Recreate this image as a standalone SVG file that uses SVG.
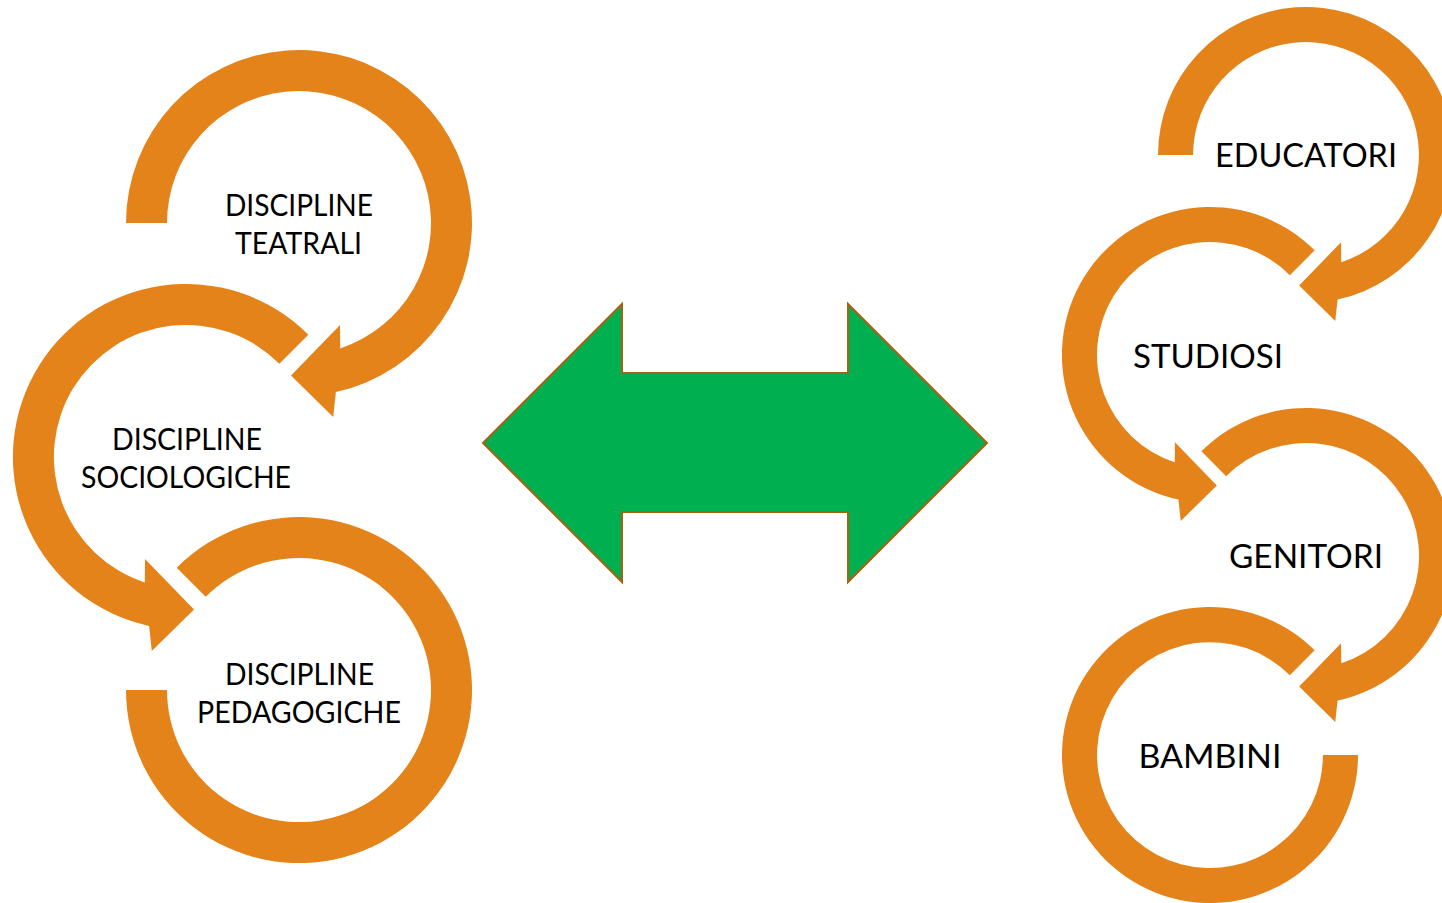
<svg xmlns="http://www.w3.org/2000/svg" xmlns:xlink="http://www.w3.org/1999/xlink" width="1442" height="903" viewBox="0 0 1442 903">
<style>
.arc{fill:#E4831A}
.lbl{font-family:Lato,"Open Sans","Liberation Sans",sans-serif;fill:#000;text-anchor:middle}
.l{font-size:31px}
.r{font-size:33.6px}
.dbl{fill:#00B050;stroke:#A8620F;stroke-width:2;stroke-linejoin:miter}
</style>
<defs>
<path id="arrA" d="M -173 0 A 173 173 0 1 1 36.9 169 L 34.2 194 L -8 152.5 L 41 102 L 41.2 125.4 A 132 132 0 1 0 -132 0 Z"/>
<path id="arrB" d="M -122.3 -122.3 A 173 173 0 1 1 36.9 169 L 34.2 194 L -8 152.5 L 41 102 L 41.2 125.4 A 132 132 0 1 0 -93.3 -93.3 Z"/>
<path id="arrC" d="M -122.3 -122.3 A 173 173 0 1 1 -173 0 L -132 0 A 132 132 0 1 0 -93.3 -93.3 Z"/>
</defs>
<rect width="1442" height="903" fill="#fff"/>
<g id="node-teatrali">
<use xlink:href="#arrA" href="#arrA" class="arc" transform="translate(299,223)"/>
<text class="lbl l"><tspan x="299" y="216" textLength="148" lengthAdjust="spacingAndGlyphs">DISCIPLINE</tspan><tspan x="298.5" y="254" textLength="127" lengthAdjust="spacingAndGlyphs">TEATRALI</tspan></text>
</g>
<g id="node-sociologiche">
<use xlink:href="#arrB" href="#arrB" class="arc" transform="translate(186,457) scale(-1,1)"/>
<text class="lbl l"><tspan x="187" y="450" textLength="150" lengthAdjust="spacingAndGlyphs">DISCIPLINE</tspan><tspan x="186" y="488" textLength="210" lengthAdjust="spacingAndGlyphs">SOCIOLOGICHE</tspan></text>
</g>
<g id="node-pedagogiche">
<use xlink:href="#arrC" href="#arrC" class="arc" transform="translate(299,690)"/>
<text class="lbl l"><tspan x="299.5" y="685" textLength="149" lengthAdjust="spacingAndGlyphs">DISCIPLINE</tspan><tspan x="299" y="723" textLength="204" lengthAdjust="spacingAndGlyphs">PEDAGOGICHE</tspan></text>
</g>
<g id="node-educatori">
<use xlink:href="#arrA" href="#arrA" class="arc" transform="translate(1306,155) scale(0.8555)"/>
<text class="lbl r" x="1306" y="167" textLength="182" lengthAdjust="spacingAndGlyphs">EDUCATORI</text>
</g>
<g id="node-studiosi">
<use xlink:href="#arrB" href="#arrB" class="arc" transform="translate(1210,355) scale(-0.8555,0.8555)"/>
<text class="lbl r" x="1208" y="368" textLength="150" lengthAdjust="spacingAndGlyphs">STUDIOSI</text>
</g>
<g id="node-genitori">
<use xlink:href="#arrB" href="#arrB" class="arc" transform="translate(1306,556) scale(0.8555)"/>
<text class="lbl r" x="1306" y="568" textLength="154" lengthAdjust="spacingAndGlyphs">GENITORI</text>
</g>
<g id="node-bambini">
<use xlink:href="#arrC" href="#arrC" class="arc" transform="translate(1210,755) scale(-0.8555,0.8555)"/>
<text class="lbl r" x="1210" y="768" textLength="143" lengthAdjust="spacingAndGlyphs">BAMBINI</text>
</g>
<g id="connectors">
<polygon class="dbl" points="483,443 622,304 622,373 848,373 848,304 987,443 848,582 848,512 622,512 622,582"/>
</g>
</svg>
